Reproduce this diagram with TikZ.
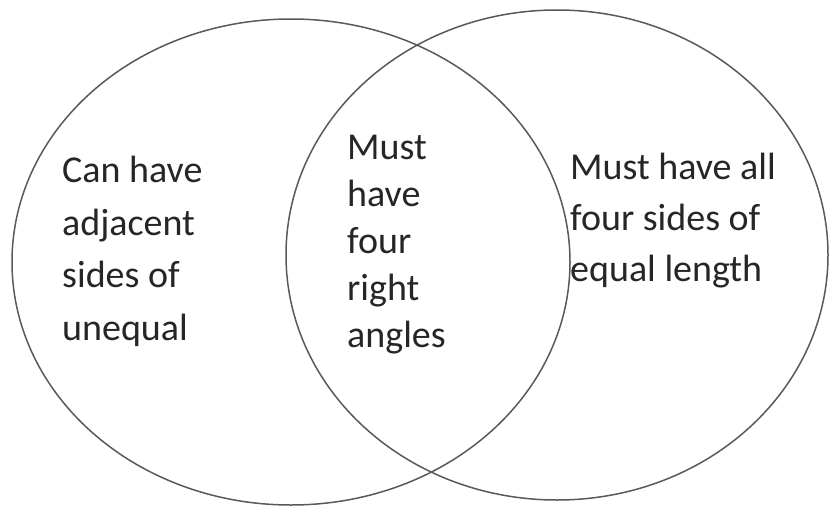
\documentclass[tikz,border=0pt]{standalone}
\usepackage{fontspec}
\setmainfont{Carlito}
\usepackage{tikz}
\usetikzlibrary{shapes.geometric,positioning}

\begin{document}
\begin{tikzpicture}[
    x=1pt, y=-1pt,
    setbox/.style={ellipse, draw=black!65, line width=1.5pt, inner sep=0pt, outer sep=0pt},
    label/.style={anchor=base west, inner sep=0pt, align=left, text=black!85}
]
\useasboundingbox (0,0) rectangle (830,511);

% Two sets
\node[setbox, minimum width=558pt, minimum height=486pt] (setA) at (291,262) {};
\node[setbox, minimum width=542pt, minimum height=490pt] (setB) at (557,255) {};

% Left only
\node[label, font=\fontsize{38}{52.5}\selectfont] (onlyA) at (62,340) {Can have\\adjacent\\sides of\\unequal};

% Overlap
\node[label, font=\fontsize{38}{47}\selectfont] (both) at (347,347) {Must\\have\\four\\right\\angles};

% Right only
\node[label, font=\fontsize{38}{51}\selectfont] (onlyB) at (570,281) {Must have all\\four sides of\\equal length};

\end{tikzpicture}
\end{document}
